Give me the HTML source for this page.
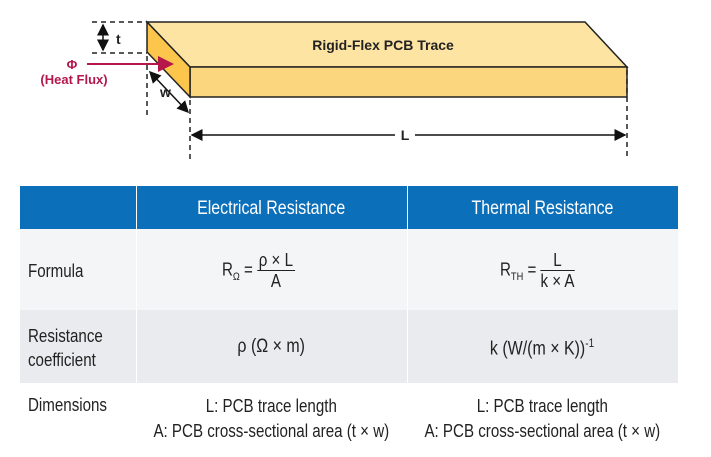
<!DOCTYPE html>
<html><head><style>
body{margin:0;width:711px;height:457px;background:#fff;font-family:"Liberation Sans",sans-serif;position:relative;overflow:hidden}
.t{position:absolute;font-family:"Liberation Sans",sans-serif;color:#222}
.c{display:inline-block;transform:scaleX(0.84)}
.cl{display:inline-block;transform:scaleX(0.84);transform-origin:left center}
.r{position:absolute;left:20px;width:658px}
</style></head><body>
<svg width="711" height="180" style="position:absolute;left:0;top:0">
<defs><marker id="a" markerWidth="8" markerHeight="8" refX="7" refY="4" orient="auto-start-reverse"><path d="M0,0L8,4L0,8z" fill="#111"/></marker>
<marker id="ar" markerWidth="8" markerHeight="8" refX="7" refY="4" orient="auto"><path d="M0,0L8,4L0,8z" fill="#b5174a"/></marker></defs>
<polygon points="147,22 585,22 627,67 190,67" fill="#fde4a3" stroke="#222" stroke-width="1.5"/>
<polygon points="190,67 627,67 627,97 190,97" fill="#fcd57f" stroke="#222" stroke-width="1.5"/>
<polygon points="147,22 190,67 190,97 147,52" fill="#fcc64c" stroke="#222" stroke-width="1.5"/>
<g stroke="#222" stroke-width="1.5" stroke-dasharray="5,4" fill="none">
<line x1="92" y1="22" x2="147" y2="22"/><line x1="92" y1="53" x2="147" y2="53"/>
<line x1="147" y1="56" x2="147" y2="115"/><line x1="190" y1="100" x2="190" y2="160"/><line x1="627" y1="70" x2="627" y2="160"/>
</g>
<line x1="103" y1="25" x2="103" y2="50" stroke="#111" stroke-width="1.5" marker-start="url(#a)" marker-end="url(#a)"/>
<line x1="150" y1="72" x2="188" y2="112" stroke="#111" stroke-width="1.5" marker-start="url(#a)" marker-end="url(#a)"/>
<line x1="192" y1="135" x2="625" y2="135" stroke="#111" stroke-width="1.5" marker-start="url(#a)" marker-end="url(#a)"/>
<rect x="395" y="127" width="20" height="16" fill="#fff"/>
<text x="405" y="140" font-size="14" font-weight="bold" text-anchor="middle" fill="#222">L</text>
<text x="116" y="44" font-size="14" font-weight="bold" fill="#222">t</text>
<text x="160" y="97" font-size="14" font-weight="bold" fill="#222">w</text>
<line x1="87" y1="64" x2="172" y2="64" stroke="#b5174a" stroke-width="2" marker-end="url(#ar)"/>
<text x="72" y="69" font-size="13" font-weight="bold" text-anchor="middle" fill="#b5174a">Φ</text>
<text x="74" y="84" font-size="13" font-weight="bold" text-anchor="middle" fill="#b5174a">(Heat Flux)</text>
<text x="383" y="50" font-size="14" font-weight="bold" text-anchor="middle" fill="#222">Rigid-Flex PCB Trace</text>
</svg>
<div class="r" style="top:186px;height:43px;background:#0c6fb9"></div>
<div class="r" style="top:229px;height:81px;background:#f4f5f7"></div>
<div class="r" style="top:310px;height:73px;background:#eaebee"></div>
<div class="r" style="top:383px;height:67px;background:#fff"></div>
<div style="position:absolute;left:136px;top:186px;width:1px;height:264px;background:#fff"></div>
<div style="position:absolute;left:407px;top:186px;width:1px;height:264px;background:#fff"></div>
<div class="t" style="left:136px;width:271px;top:198px;text-align:center;color:#fff;font-size:19px"><span class="c">Electrical Resistance</span></div>
<div class="t" style="left:407px;width:271px;top:198px;text-align:center;color:#fff;font-size:19px"><span class="c">Thermal Resistance</span></div>
<div class="t" style="left:28px;top:261px;font-size:18px"><span class="cl">Formula</span></div>
<div class="t" style="left:28px;top:324px;font-size:18px;line-height:24px"><span class="cl">Resistance<br>coefficient</span></div>
<div class="t" style="left:28px;top:395px;font-size:18px"><span class="cl">Dimensions</span></div>
<div class="t" style="left:222px;top:250px;font-size:18px"><span class="cl">R<sub style="font-size:11px">Ω</sub> = <span style="display:inline-block;vertical-align:middle;text-align:center;line-height:20px"><span style="display:block;border-bottom:1px solid #222;padding:0 2px">ρ × L</span><span style="display:block">A</span></span></span></div>
<div class="t" style="left:500px;top:250px;font-size:18px"><span class="cl">R<sub style="font-size:11px">TH</sub> = <span style="display:inline-block;vertical-align:middle;text-align:center;line-height:20px"><span style="display:block;border-bottom:1px solid #222;padding:0 2px">L</span><span style="display:block">k × A</span></span></span></div>
<div class="t" style="left:136px;width:271px;top:336px;text-align:center;font-size:19px"><span class="c">ρ (Ω × m)</span></div>
<div class="t" style="left:407px;width:271px;top:336px;text-align:center;font-size:19px"><span class="c">k (W/(m × K))<sup style="font-size:12px">-1</sup></span></div>
<div class="t" style="left:126px;width:291px;top:394px;text-align:center;font-size:18px;line-height:25px"><span class="c">L: PCB trace length<br>A: PCB cross-sectional area (t × w)</span></div>
<div class="t" style="left:397px;width:291px;top:394px;text-align:center;font-size:18px;line-height:25px"><span class="c">L: PCB trace length<br>A: PCB cross-sectional area (t × w)</span></div>
</body></html>
